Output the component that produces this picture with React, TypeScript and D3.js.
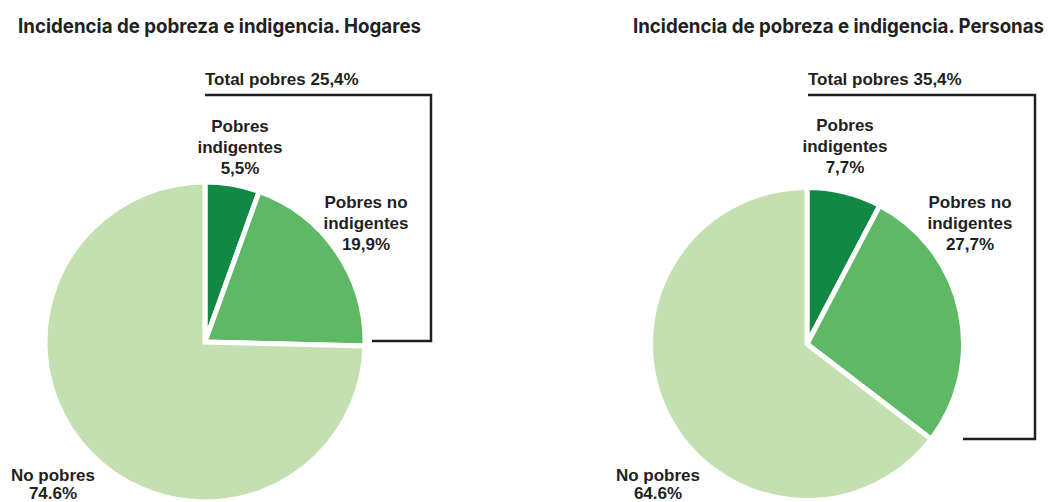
import React, { useLayoutEffect, useRef, useState } from "react";
import * as d3 from "d3";

const categories = ["Pobres indigentes", "Pobres no indigentes", "No pobres"];
const hogaresValues = [5.5, 19.9, 74.6];
const personasValues = [7.7, 27.7, 64.6];
const colors = ["#118843", "#5fb866", "#c4e0b0"];
const titles = ["Incidencia de pobreza e indigencia. Hogares", "Incidencia de pobreza e indigencia. Personas"];
const totalLabels = ["Total pobres 25,4%", "Total pobres 35,4%"];
const hogaresLabels = [["Pobres", "indigentes", "5,5%"], ["Pobres no", "indigentes", "19,9%"], ["No pobres", "74.6%"]];
const personasLabels = [["Pobres", "indigentes", "7,7%"], ["Pobres no", "indigentes", "27,7%"], ["No pobres", "64.6%"]];

type PanelCfg = {
  values: number[];
  labels: string[][];
  title: string;
  total: string;
  titleX: number;
  titleW: number;
  cx: number;
  cy: number;
  r: number;
  labelPos: [number, number][];
  bracket: { x0: number; xr: number; y0: number; y1: number; x1: number };
};

const panels: PanelCfg[] = [
  {
    values: hogaresValues,
    labels: hogaresLabels,
    title: titles[0],
    total: totalLabels[0],
    titleX: 18,
    titleW: 403,
    cx: 205,
    cy: 342,
    r: 160,
    labelPos: [[240, 132], [366, 208], [53, 481]],
    bracket: { x0: 205, xr: 431, y0: 95, y1: 341, x1: 372 },
  },
  {
    values: personasValues,
    labels: personasLabels,
    title: titles[1],
    total: totalLabels[1],
    titleX: 633,
    titleW: 411,
    cx: 807,
    cy: 344,
    r: 156.5,
    labelPos: [[845, 131], [970, 208], [658, 481]],
    bracket: { x0: 808, xr: 1035, y0: 95, y1: 439, x1: 963 },
  },
];

const font = "'Liberation Sans', Arial, Helvetica, sans-serif";

function Title({ x, w, text }: { x: number; w: number; text: string }) {
  const ref = useRef<SVGTextElement>(null);
  const [sx, setSx] = useState(0.9);
  useLayoutEffect(() => {
    if (ref.current) {
      const nat = ref.current.getComputedTextLength();
      if (nat > 0) setSx(w / nat);
    }
  }, [w, text]);
  return (
    <text
      ref={ref}
      transform={`translate(${x},33) scale(${sx},1)`}
      fontFamily="Inter, 'Liberation Sans', Arial, sans-serif"
      fontWeight={700}
      fontSize={20}
      fill="#231f20"
    >
      {text}
    </text>
  );
}

function Panel({ p }: { p: PanelCfg }) {
  const pie = d3.pie<number>().sort(null).value((d) => d);
  const arcs = pie(p.values);
  const arc = d3.arc<d3.PieArcDatum<number>>().innerRadius(0).outerRadius(p.r);
  const b = p.bracket;
  return (
    <g>
      <Title x={p.titleX} w={p.titleW} text={p.title} />
      <path
        d={`M${b.x0},${b.y0}H${b.xr}V${b.y1}H${b.x1}`}
        fill="none"
        stroke="#231f20"
        strokeWidth={2.5}
      />
      <text x={b.x0} y={85} fontFamily={font} fontWeight="bold" fontSize={17} fill="#231f20">
        {p.total}
      </text>
      <g transform={`translate(${p.cx},${p.cy})`}>
        {arcs.map((a, i) => (
          <path key={categories[i]} d={arc(a) || ""} fill={colors[i]} stroke="#ffffff" strokeWidth={5} strokeLinejoin="miter" />
        ))}
      </g>
      {p.labels.map((lines, i) => (
        <text key={i} fontFamily={font} fontWeight="bold" fontSize={17} fill="#231f20" textAnchor="middle">
          {lines.map((l, j) => (
            <tspan key={j} x={p.labelPos[i][0]} y={p.labelPos[i][1] + j * (i === 2 ? 18 : 21)}>
              {l}
            </tspan>
          ))}
        </text>
      ))}
    </g>
  );
}

export default function App() {
  return (
    <svg
      width={1049}
      height={502}
      style={{ position: "absolute", left: 0, top: 0, background: "#ffffff" }}
    >
      {panels.map((p, i) => (
        <Panel key={i} p={p} />
      ))}
    </svg>
  );
}
